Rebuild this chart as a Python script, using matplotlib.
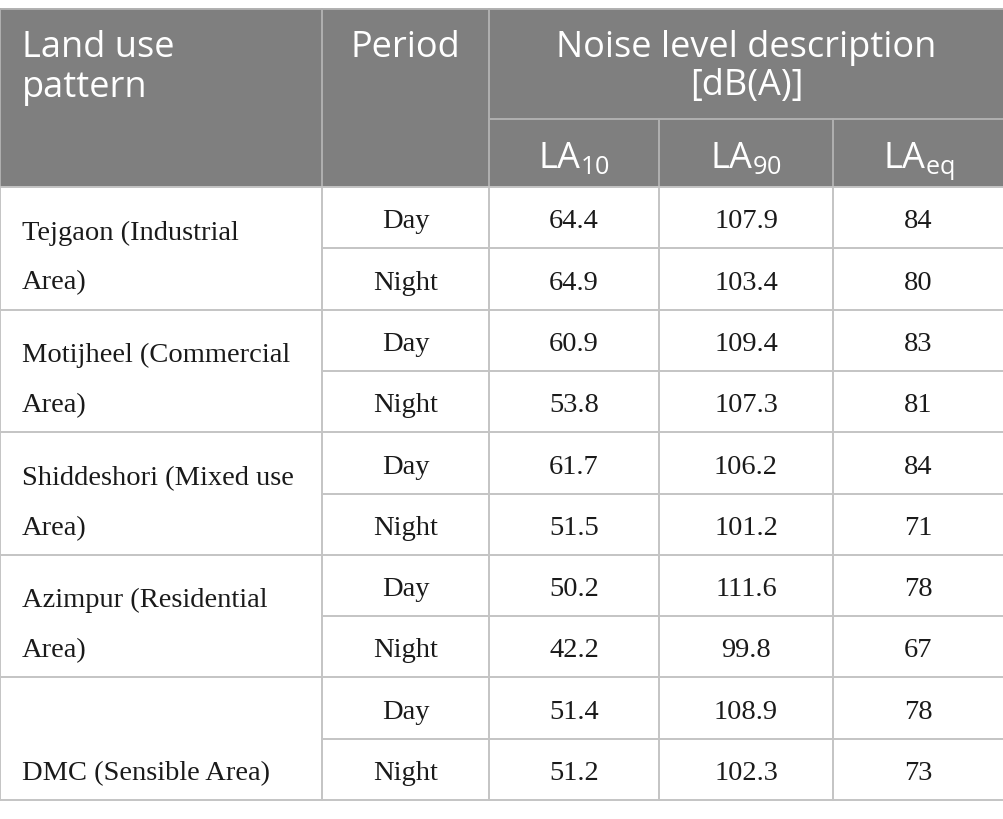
import matplotlib.pyplot as plt
from matplotlib.patches import Rectangle

# table content
areas = ["Tejgaon (Industrial\nArea)", "Motijheel (Commercial\nArea)",
         "Shiddeshori (Mixed use\nArea)", "Azimpur (Residential\nArea)",
         "DMC (Sensible Area)"]
periods = ["Day", "Night"]
la10 = [64.4, 64.9, 60.9, 53.8, 61.7, 51.5, 50.2, 42.2, 51.4, 51.2]
la90 = [107.9, 103.4, 109.4, 107.3, 106.2, 101.2, 111.6, 99.8, 108.9, 102.3]
laeq = [84, 80, 83, 81, 84, 71, 78, 67, 78, 73]
sub_labels = [r"$\mathregular{LA_{10}}$", r"$\mathregular{LA_{90}}$", r"$\mathregular{LA_{eq}}$"]

# layout in pixels
col_x = [0, 322, 489, 659, 833, 1004]
top = 9
head_mid = 119
head_bot = 187
row_h = 61.3

HEAD_BG = "#7f7f7f"
HEAD_LINE = "#b0b0b0"
BODY_LINE = "#c4c4c4"
SANS = "Open Sans"
SERIF = "Liberation Serif"

fig = plt.figure(figsize=(10.04, 8.19), dpi=100)
ax = fig.add_axes([0, 0, 1, 1])
ax.set_xlim(0, 1004)
ax.set_ylim(819, 0)
ax.axis("off")

# header block
ax.add_patch(Rectangle((0, top), 1004, head_bot - top, color=HEAD_BG, lw=0))
ax.plot([0, 1004], [top, top], color=HEAD_LINE, lw=1.4)
ax.plot([col_x[2], 1004], [head_mid, head_mid], color=HEAD_LINE, lw=1.4)
for x in col_x[:2]:
    ax.plot([x, x], [top, head_bot], color=HEAD_LINE, lw=1.4)
ax.plot([col_x[2], col_x[2]], [top, head_bot], color=HEAD_LINE, lw=1.4)
for x in col_x[3:5]:
    ax.plot([x, x], [head_mid, head_bot], color=HEAD_LINE, lw=1.4)

hs = 26
ax.text(22, 57, "Land use", color="white", fontsize=hs, family=SANS, va="baseline")
ax.text(22, 97, "pattern", color="white", fontsize=hs, family=SANS, va="baseline")
ax.text((col_x[1] + col_x[2]) / 2, 57, "Period", color="white", fontsize=hs,
        family=SANS, ha="center", va="baseline")
mid_noise = (col_x[2] + col_x[5]) / 2
ax.text(mid_noise, 57, "Noise level description", color="white", fontsize=hs,
        family=SANS, ha="center", va="baseline")
ax.text(mid_noise, 95, "[dB(A)]", color="white", fontsize=hs,
        family=SANS, ha="center", va="baseline")
for i, lab in enumerate(sub_labels):
    cx = (col_x[i + 2] + col_x[i + 3]) / 2
    ax.text(cx, 168, lab, color="white", fontsize=hs, family=SANS,
            ha="center", va="baseline")

# body
n_rows = len(la10)
bottom = head_bot + n_rows * row_h
for r in range(n_rows + 1):
    y = head_bot + r * row_h
    x0 = 0 if r % 2 == 0 else col_x[1]
    ax.plot([x0, 1004], [y, y], color=BODY_LINE, lw=1.4)
for x in col_x[:5]:
    ax.plot([x, x], [head_bot, bottom], color=BODY_LINE, lw=1.4)

bs = 20.5
for r in range(n_rows):
    yb = head_bot + (r + 1) * row_h - 20
    vals = [periods[r % 2], f"{la10[r]:.1f}", f"{la90[r]:.1f}", str(laeq[r])]
    for c, v in enumerate(vals):
        cx = (col_x[c + 1] + col_x[c + 2]) / 2
        ax.text(cx, yb, v, fontsize=bs, family=SERIF, ha="center",
                va="baseline", color="#1a1a1a")

for g, name in enumerate(areas):
    gb = head_bot + (g + 1) * 2 * row_h
    lines = name.split("\n")
    for k, line in enumerate(lines):
        yb = gb - 20 - 50 * (len(lines) - 1 - k)
        ax.text(22, yb, line, fontsize=bs, family=SERIF, va="baseline",
                color="#1a1a1a")

fig.savefig("out.png", dpi=100)
